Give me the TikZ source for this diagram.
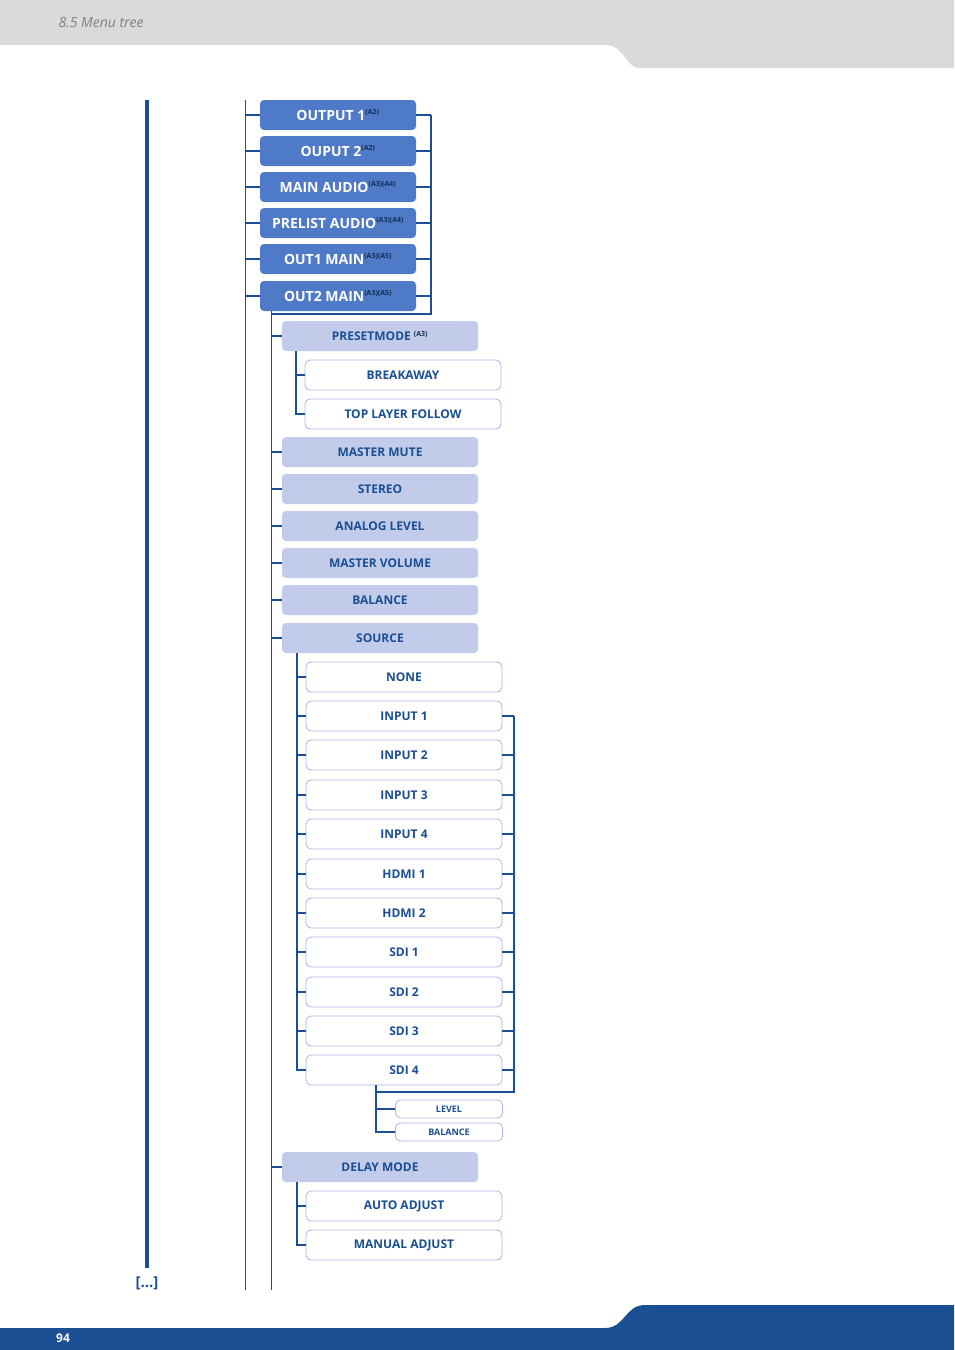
\documentclass[tikz,border=0pt]{standalone}
\usepackage{fontspec}
\setmainfont{Open Sans}
\usetikzlibrary{positioning}
\definecolor{navy}{HTML}{1A4F93}
\definecolor{topblue}{HTML}{4F7AC7}
\definecolor{lav}{HTML}{C3CBEB}
\definecolor{lavline}{HTML}{A9B6E6}
\definecolor{greyband}{HTML}{DADADA}
\newcommand{\menusup}[1]{\textsuperscript{\color{navy!60!black}\fontsize{7}{8}\selectfont#1}}
\begin{document}
\begin{tikzpicture}[
    x=1pt, y=-1pt,
    topbox/.style={rectangle, rounded corners=4pt, minimum width=156pt, minimum height=30pt, inner sep=0pt, text centered, fill=topblue, text=white, font=\fontsize{14}{16}\selectfont\bfseries},
    midbox/.style={rectangle, rounded corners=4pt, minimum width=196pt, minimum height=30pt, inner sep=0pt, text centered, fill=lav, text=navy, font=\fontsize{12}{14}\selectfont\bfseries},
    leafbox/.style={rectangle, rounded corners=5pt, minimum width=196pt, minimum height=30pt, inner sep=0pt, text centered, draw=lavline, line width=0.8pt, fill=white, text=navy, font=\fontsize{12}{14}\selectfont\bfseries},
    tinybox/.style={leafbox, minimum width=107pt, minimum height=18pt, font=\fontsize{9}{10}\selectfont\bfseries},
    link/.style={draw=navy, line width=1.6pt},
    thin/.style={draw=navy, line width=0.9pt}
]
\useasboundingbox (0,0) rectangle (954,1350);

% header and footer
\fill[greyband] (0,0) -- (954,0) -- (954,68) -- (640,68) .. controls (625,68) and (625,45) .. (605,45) -- (0,45) -- cycle;
\node[anchor=west, text=gray, font=\fontsize{14}{16}\selectfont\itshape] (title) at (55,23) {8.5 Menu tree};
\fill[navy] (0,1350) -- (954,1350) -- (954,1305) -- (645,1305) .. controls (625,1305) and (625,1328) .. (605,1328) -- (0,1328) -- cycle;
\node[text=white, font=\fontsize{12}{14}\selectfont\bfseries] (page) at (63,1338) {94};

% side bar
\coordinate (barA) at (147,100);
\coordinate (barB) at (147,1268);
\draw[navy, line width=4pt] (barA) -- (barB);
\node[text=navy, font=\fontsize{15}{17}\selectfont\bfseries] (more) at (147,1283) {[...]};

% trunks
\coordinate (t1a) at (245,100);
\coordinate (t1b) at (245,1290);
\draw[thin] (t1a) -- (t1b);

% level 1
\node[topbox] (o1) at (338,115) {OUTPUT 1\menusup{(A2)}};
\node[topbox] (o2) at (338,151) {OUPUT 2\menusup{(A2)}};
\node[topbox] (ma) at (338,187) {MAIN AUDIO\menusup{(A3)(A4)}};
\node[topbox] (pa) at (338,223) {PRELIST AUDIO\menusup{(A3)(A4)}};
\node[topbox] (m1) at (338,259) {OUT1 MAIN\menusup{(A3)(A5)}};
\node[topbox] (m2) at (338,296) {OUT2 MAIN\menusup{(A3)(A5)}};
\coordinate (r1) at (431,115);
\coordinate (r2) at (431,314);
\coordinate (t2a) at (271,311);
\coordinate (t2b) at (271,1290);
\foreach \n in {o1,o2,ma,pa,m1,m2} {
  \draw[link] (\n.west) -- (\n.west -| t1a);
  \draw[link] (\n.east) -- (\n.east -| r1);
}
\draw[link] (r1) -- (r2) -- (r2 -| t2a);
\draw[thin] (t2a) -- (t2b);

% level 2
\node[midbox] (pm) at (380,336) {PRESETMODE \menusup{(A3)}};
\node[midbox] (mm) at (380,452) {MASTER MUTE};
\node[midbox] (st) at (380,489) {STEREO};
\node[midbox] (al) at (380,526) {ANALOG LEVEL};
\node[midbox] (mv) at (380,563) {MASTER VOLUME};
\node[midbox] (ba) at (380,600) {BALANCE};
\node[midbox] (so) at (380,638) {SOURCE};
\node[midbox] (dm) at (380,1167) {DELAY MODE};
\foreach \n in {pm,mm,st,al,mv,ba,so,dm}
  \draw[link] (\n.west) -- (\n.west -| t2a);

% presetmode children
\node[leafbox] (bk) at (403,375) {BREAKAWAY};
\node[leafbox] (tl) at (403,414) {TOP LAYER FOLLOW};
\coordinate (t3) at (296,351);
\draw[link] (t3) |- (tl.west);
\draw[link] (bk.west) -- (bk.west -| t3);

% source children
\coordinate (t4) at (297,653);
\coordinate (r3) at (514,716);
\node[leafbox] (none) at (404,677) {NONE};
\foreach \lbl/\n/\y in {INPUT 1/i1/716, INPUT 2/i2/755, INPUT 3/i3/795, INPUT 4/i4/834,
    HDMI 1/h1/874, HDMI 2/h2/913, SDI 1/s1/952, SDI 2/s2/992, SDI 3/s3/1031, SDI 4/s4/1070} {
  \node[leafbox] (\n) at (404,\y) {\lbl};
  \draw[link] (\n.west) -- (\n.west -| t4);
  \draw[link] (\n.east) -- (\n.east -| r3);
}
\draw[link] (none.west) -- (none.west -| t4);
\draw[link] (t4) |- (s4.west);
\coordinate (r4) at (514,1092);
\coordinate (t5) at (376,1092);
\draw[link] (r3) -- (r4) -- (t5);

% sdi 4 children
\node[tinybox] (lv) at (449,1109) {LEVEL};
\node[tinybox] (bl) at (449,1132) {BALANCE};
\draw[link] (s4.south -| t5) |- (bl.west);
\draw[link] (lv.west) -- (lv.west -| t5);

% delay mode children
\node[leafbox] (aa) at (404,1206) {AUTO ADJUST};
\node[leafbox] (mn) at (404,1245) {MANUAL ADJUST};
\coordinate (t6) at (297,1182);
\draw[link] (t6) |- (mn.west);
\draw[link] (aa.west) -- (aa.west -| t6);

\end{tikzpicture}
\end{document}
